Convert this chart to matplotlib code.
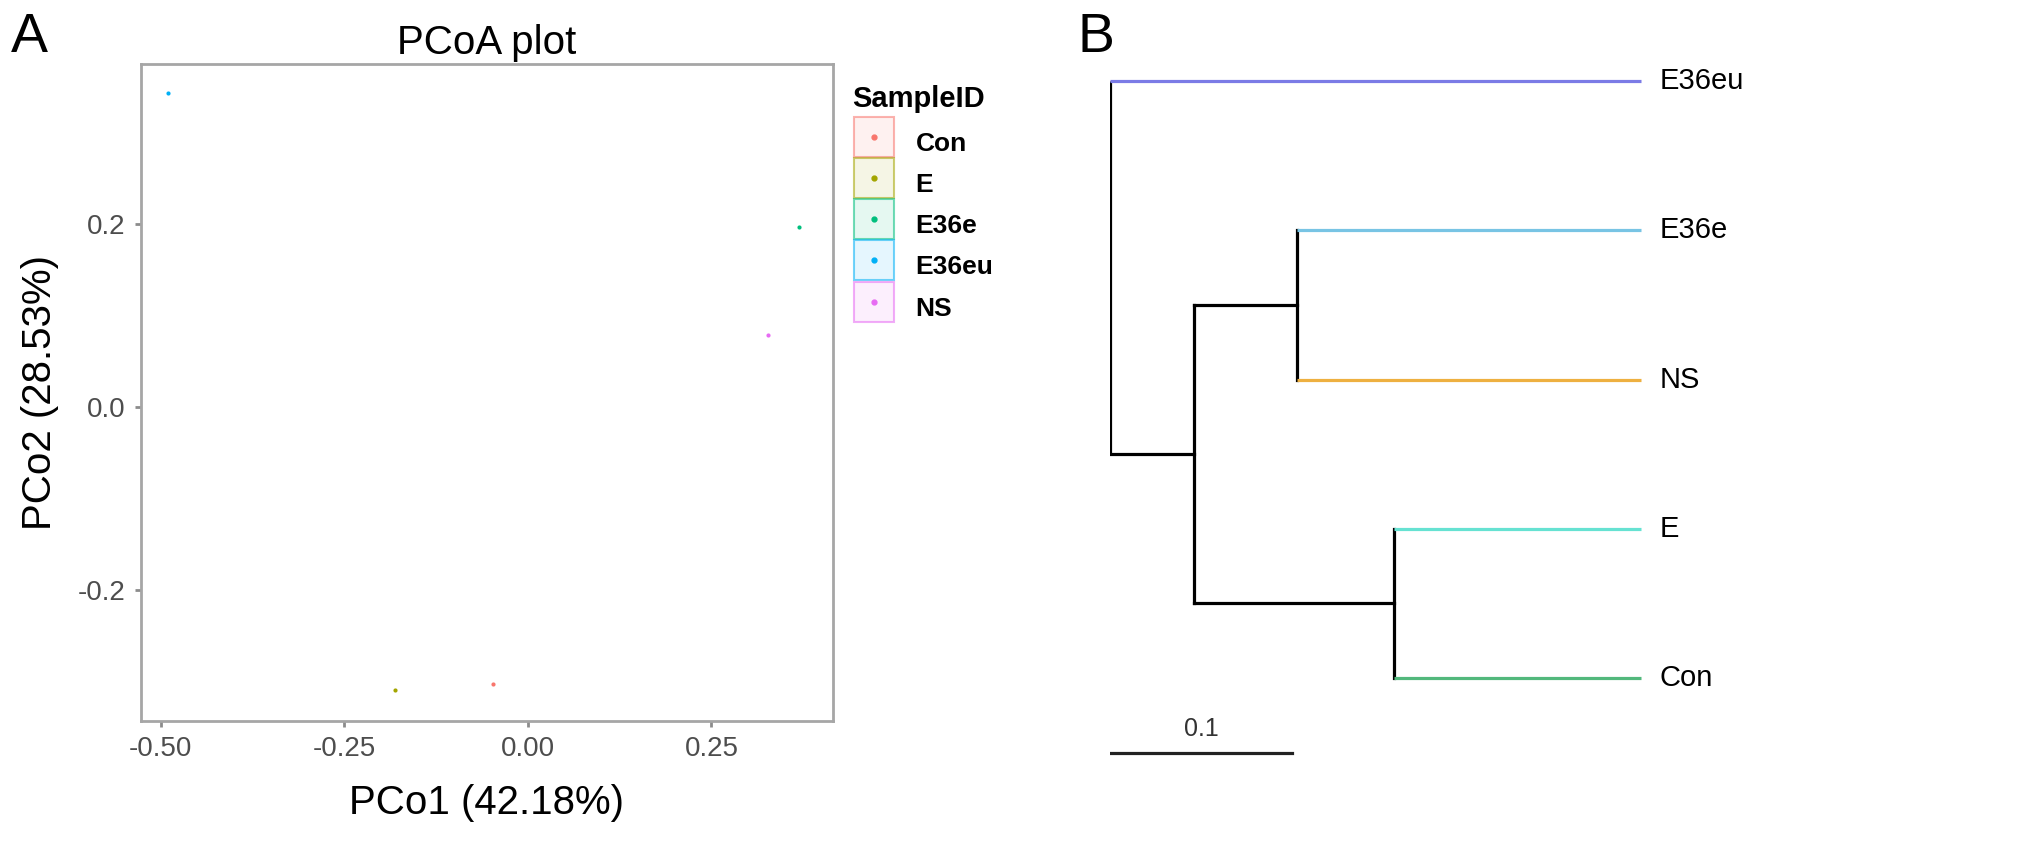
import matplotlib
matplotlib.use("Agg")
import matplotlib.pyplot as plt
from matplotlib.colors import to_rgba
from matplotlib.lines import Line2D

plt.rcParams["font.family"] = ["Liberation Sans", "DejaVu Sans"]

# --- PCoA data ---
samples = ["Con", "E", "E36e", "E36eu", "NS"]
pco1 = [-0.048, -0.181, 0.369, -0.490, 0.327]
pco2 = [-0.303, -0.309, 0.197, 0.343, 0.079]
pt_colors = ["#F8766D", "#A3A500", "#00BF7D", "#00B0F6", "#E76BF3"]

# --- tree data (top to bottom) ---
tips = ["E36eu", "E36e", "NS", "E", "Con"]
tip_colors = ["#7b7be6", "#78c4e4", "#eeb040", "#66e2d2", "#52b87c"]
d_inner = 0.046   # root -> inner node
d_upper = 0.103   # root -> (E36e, NS) node
d_lower = 0.156   # root -> (E, Con) node
d_tip = 0.292     # root -> tips
scale_len = 0.1

W, H = 2031, 849
fig = plt.figure(figsize=(W / 100, H / 100), dpi=100)


def px_axes(l, t, r, b):
    return fig.add_axes([l / W, 1 - b / H, (r - l) / W, (b - t) / H])


# ---------------- panel A ----------------
ax = px_axes(141, 64, 833, 721)
for x, y, c in zip(pco1, pco2, pt_colors):
    ax.scatter(x, y, s=9, color=c, linewidths=0, zorder=3)
ax.set_xlim(-0.527, 0.4155)
ax.set_ylim(-0.343, 0.375)
ax.set_xticks([-0.5, -0.25, 0.0, 0.25])
ax.set_xticklabels(["-0.50", "-0.25", "0.00", "0.25"])
ax.set_yticks([-0.2, 0.0, 0.2])
ax.set_yticklabels(["-0.2", "0.0", "0.2"])
for s in ax.spines.values():
    s.set_color("#a6a6a6")
    s.set_linewidth(2)
ax.tick_params(length=4, width=2, color="#8c8c8c", labelsize=20,
               labelcolor="#4d4d4d", pad=7)
ax.set_xlabel("PCo1 (42.18%)", fontsize=29, labelpad=16)
ax.set_ylabel("PCo2 (28.53%)", fontsize=29, labelpad=14)
ax.set_title("PCoA plot", fontsize=29, pad=7)

# legend keys: tinted square with coloured border + small dot
handles = []
for c in pt_colors:
    box = Line2D([], [], marker="s", ls="none", markersize=29,
                 markerfacecolor=to_rgba(c, 0.1),
                 markeredgecolor=to_rgba(c, 0.55), markeredgewidth=1.5)
    dot = Line2D([], [], marker="o", ls="none", markersize=3.5, color=c)
    handles.append((box, dot))
leg = ax.legend(handles, samples, loc="upper left",
                bbox_to_anchor=(855 / W, 1 - 123 / H),
                bbox_transform=fig.transFigure, frameon=False,
                prop={"size": 19, "weight": "bold"},
                handlelength=1.45, handleheight=1.9, labelspacing=0.08,
                handletextpad=0.85, borderpad=0, borderaxespad=0)
fig.text(852 / W, 1 - 107 / H, "SampleID", fontsize=21, fontweight="bold",
         va="baseline")

fig.text(11 / W, 1 - 52 / H, "A", fontsize=40, va="baseline")

# ---------------- panel B ----------------
spacing = 149.25
bx = px_axes(1110, 81 - 0.5 * spacing, W, H)
bx.set_xlim(0, (W - 1110) / 1820)
bx.set_ylim((H - 81) / spacing, -0.5)
bx.axis("off")

lw = 2.3
y_upper = 1.5
y_lower = 3.5
y_inner = (y_upper + y_lower) / 2
# root
bx.plot([0, 0], [0, y_inner], color="black", lw=lw, solid_capstyle="butt")
bx.plot([0, d_inner], [y_inner, y_inner], color="black", lw=lw)
# inner node
bx.plot([d_inner, d_inner], [y_upper, y_lower], color="black", lw=lw)
bx.plot([d_inner, d_upper], [y_upper, y_upper], color="black", lw=lw)
bx.plot([d_inner, d_lower], [y_lower, y_lower], color="black", lw=lw)
bx.plot([d_upper, d_upper], [1, 2], color="black", lw=lw)
bx.plot([d_lower, d_lower], [3, 4], color="black", lw=lw)

starts = [0, d_upper, d_upper, d_lower, d_lower]
for i, (name, c, x0) in enumerate(zip(tips, tip_colors, starts)):
    bx.plot([x0, d_tip], [i, i], color=c, lw=lw, solid_capstyle="butt")
    bx.text(d_tip + 0.01, i, name, fontsize=21, va="center", ha="left")

# scale bar
bx.plot([0, scale_len], [4.5, 4.5], color="#222222", lw=lw)
bx.text(scale_len / 2, 4.42, "0.1", fontsize=18, ha="center", va="bottom",
        color="#333333")

fig.text(1077 / W, 1 - 52 / H, "B", fontsize=40, va="baseline")

fig.savefig("out.png", dpi=100)
